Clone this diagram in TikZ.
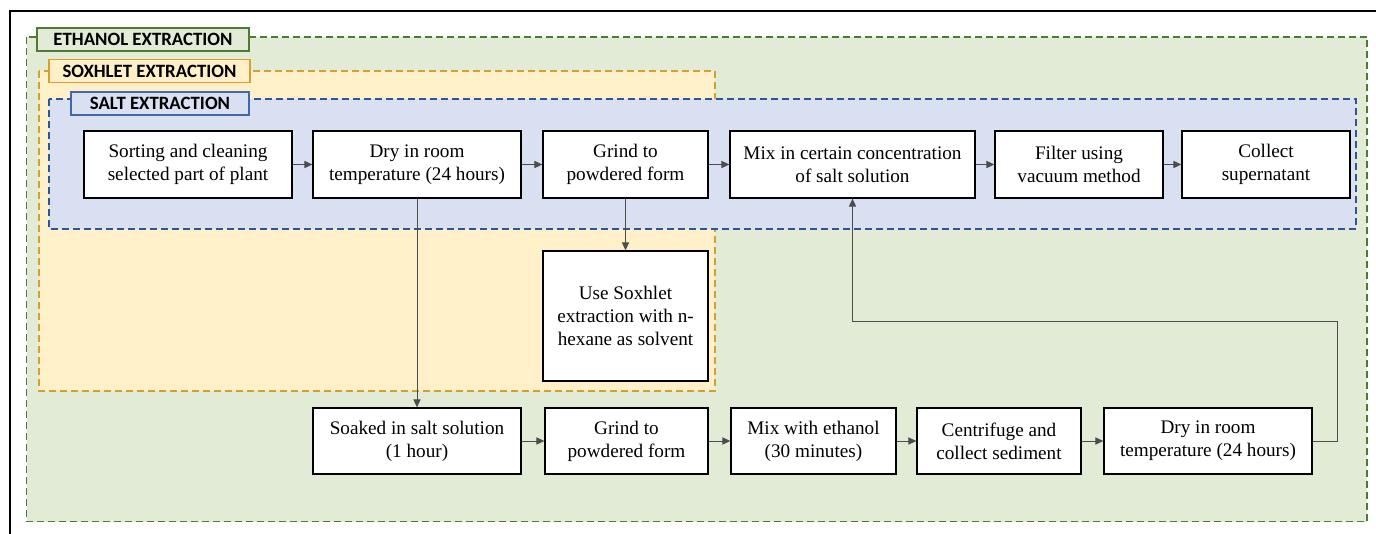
\documentclass[tikz,border=0pt]{standalone}
\usepackage{fontspec}
\newfontfamily\boxfont{LiberationSerif}[Extension=.ttf, UprightFont=*-Regular, BoldFont=*-Bold]
\newfontfamily\labelfont{Carlito}
\usepackage{xcolor}
\definecolor{ethfill}{HTML}{E2EBD6}
\definecolor{ethline}{HTML}{4E7A34}
\definecolor{soxfill}{HTML}{FFF0CA}
\definecolor{soxline}{HTML}{D6A02E}
\definecolor{saltfill}{HTML}{D9E0F1}
\definecolor{saltline}{HTML}{2F5597}
\definecolor{saltlbl}{HTML}{4169A8}
\usetikzlibrary{arrows.meta,positioning}
\tikzset{
	stepbox/.style={draw=black, line width=.65pt, fill=white, align=center, inner sep=0pt,
		font=\boxfont\fontsize{9.6}{11.5}\selectfont},
	grouplabel/.style={draw, line width=.65pt, inner sep=0pt, minimum height=11.5pt,
		font=\labelfont\bfseries\fontsize{9.4}{11}\selectfont},
	region/.style={dash pattern=on 3.5pt off 2pt, line width=.6pt},
	arr/.style={-{Triangle[length=4pt,width=3.6pt]}, line width=.5pt, draw=black!70},
}
\begin{document}
\begin{tikzpicture}[x=.5pt,y=-.5pt]
			\useasboundingbox (0,0) rectangle (1376,534);
			\draw[line width=1pt] (1376,11) -- (10,11) -- (10,534);
			
			%%% REGIONS
			\filldraw[region, fill=ethfill, draw=ethline] (26.5,37) rectangle (1367,521.5);
			\filldraw[region, fill=soxfill, draw=soxline] (39,71) rectangle (715,391);
			\filldraw[region, fill=saltfill, draw=saltline] (49,99) rectangle (1356,229);
			
			\node[grouplabel, fill=ethfill, draw=ethline, minimum width=106pt] (ethlbl) at (143,39.5) {ETHANOL EXTRACTION};
			\node[grouplabel, fill=soxfill, draw=soxline, minimum width=100.5pt] (soxlbl) at (149.5,71) {SOXHLET EXTRACTION};
			\node[grouplabel, fill=saltfill, draw=saltlbl, minimum width=89pt] (saltlbl) at (160,103.5) {SALT EXTRACTION};
			
			%%% TOP ROW
			\node[stepbox, minimum width=104pt, minimum height=33.5pt] (sort) at (188,164.5) {Sorting and cleaning\\selected part of plant};
			\node[stepbox, minimum width=104pt, minimum height=33.5pt] (dry) at (417,164.5) {Dry in room\\temperature (24 hours)};
			\node[stepbox, minimum width=82.5pt, minimum height=33.5pt] (grind) at (625.5,164.5) {Grind to\\powdered form};
			\node[stepbox, minimum width=122.5pt, minimum height=33.5pt] (mixsalt) at (852.5,164.5) {Mix in certain concentration\\of salt solution};
			\node[stepbox, minimum width=84pt, minimum height=33.5pt] (filter) at (1079,164.5) {Filter using\\vacuum method};
			\node[stepbox, minimum width=84pt, minimum height=33.5pt] (collect) at (1266,164.5) {Collect\\supernatant};
			
			\node[stepbox, minimum width=82.5pt, minimum height=65pt] (soxh) at (625.5,316) {Use Soxhlet\\extraction with n-\\hexane as solvent};
			
			%%% BOTTOM ROW
			\node[stepbox, minimum width=104pt, minimum height=33pt] (soak) at (417,441) {Soaked in salt solution\\(1 hour)};
			\node[stepbox, minimum width=81.5pt, minimum height=33pt] (grindb) at (626.5,441) {Grind to\\powdered form};
			\node[stepbox, minimum width=82.5pt, minimum height=33pt] (mixeth) at (813.5,441) {Mix with ethanol\\(30 minutes)};
			\node[stepbox, minimum width=82pt, minimum height=33pt] (centri) at (999,441) {Centrifuge and\\collect sediment};
			\node[stepbox, minimum width=104pt, minimum height=33pt] (dryb) at (1208,441) {Dry in room\\temperature (24 hours)};
			
			\draw[arr] (sort) -- (dry);
			\draw[arr] (dry) -- (grind);
			\draw[arr] (grind) -- (mixsalt);
			\draw[arr] (mixsalt) -- (filter);
			\draw[arr] (filter) -- (collect);
			\draw[arr] (grind) -- (soxh);
			\draw[arr] (dry) -- (soak);
			
			\draw[arr] (soak) -- (grindb);
			\draw[arr] (grindb) -- (mixeth);
			\draw[arr] (mixeth) -- (centri);
			\draw[arr] (centri) -- (dryb);
			
			\coordinate (back) at (1337,322); % return line
			\draw[arr] (dryb.east) -| (back) -| (mixsalt.south);
			
		\end{tikzpicture}
\end{document}
